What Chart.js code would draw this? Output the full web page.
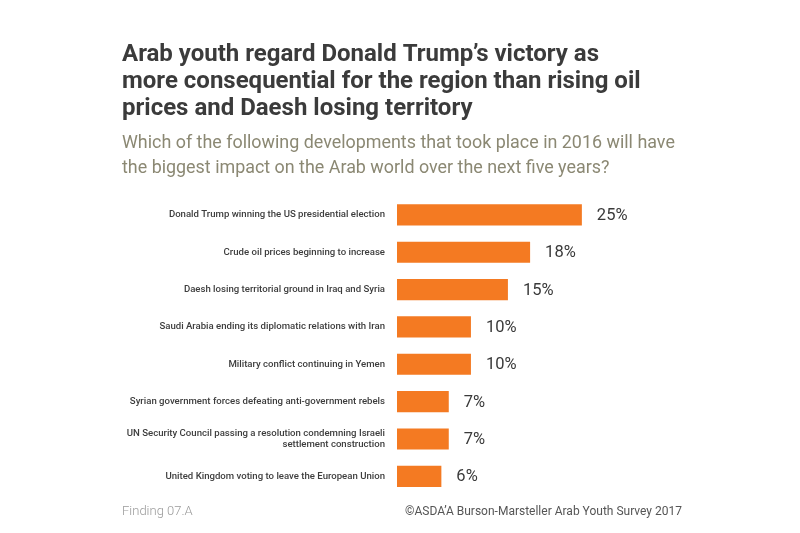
<!DOCTYPE html>
<html>
<head>
<meta charset="utf-8">
<script src="https://cdn.jsdelivr.net/npm/chart.js@4"></script>
<style>
    html, body { margin: 0; padding: 0; background: #ffffff; }
    #wrap { position: relative; width: 800px; height: 533px; }
</style>
</head>
<body>
<div id="wrap"><canvas id="youthChart" width="800" height="533"></canvas></div>
<script>
// Datos del gráfico
const categorias = [
    'Donald Trump winning the US presidential election',
    'Crude oil prices beginning to increase',
    'Daesh losing territorial ground in Iraq and Syria',
    'Saudi Arabia ending its diplomatic relations with Iran',
    'Military conflict continuing in Yemen',
    'Syrian government forces defeating anti-government rebels',
    ['UN Security Council passing a resolution condemning Israeli', 'settlement construction'],
    'United Kingdom voting to leave the European Union'
];
const porcentajes = [25, 18, 15, 10, 10, 7, 7, 6];

const titulo = [
    'Arab youth regard Donald Trump\u2019s victory as',
    'more consequential for the region than rising oil',
    'prices and Daesh losing territory'
];
const subtitulo = [
    'Which of the following developments that took place in 2016 will have',
    'the biggest impact on the Arab world over the next five years?'
];
const pieIzquierda = 'Finding 07.A';
const pieDerecha = '\u00A9ASDA\u2019A Burson-Marsteller Arab Youth Survey 2017';

// Etiquetas de porcentaje al final de cada barra y pie de página
const etiquetasPlugin = {
    id: 'etiquetas',
    afterDatasetsDraw(chart) {
        const ctx = chart.ctx;
        const meta = chart.getDatasetMeta(0);
        ctx.save();
        ctx.font = '400 16.5px Roboto';
        ctx.fillStyle = '#3a3a3a';
        ctx.textBaseline = 'middle';
        ctx.textAlign = 'left';
        meta.data.forEach((bar, i) => {
            ctx.fillText(porcentajes[i] + '%', bar.x + 15, bar.y + 1);
        });

        ctx.textBaseline = 'alphabetic';
        ctx.font = '300 13px Roboto';
        ctx.fillStyle = '#9a9a9a';
        ctx.fillText(pieIzquierda, 122, 515);
        ctx.font = '400 12px Roboto';
        ctx.fillStyle = '#555555';
        ctx.fillText(pieDerecha, 405, 515);
        ctx.restore();
    }
};

new Chart(document.getElementById('youthChart'), {
    type: 'bar',
    data: {
        labels: categorias,
        datasets: [{
            data: porcentajes,
            backgroundColor: '#f47a22',
            barPercentage: 0.9,
            categoryPercentage: 0.63,
        }],
    },
    plugins: [etiquetasPlugin],
    options: {
        indexAxis: 'y',
        responsive: false,
        animation: false,
        layout: {
            padding: { left: 122, right: 122, top: 0, bottom: 38 }
        },
        plugins: {
            legend: { display: false },
            tooltip: { enabled: false },
            title: {
                display: true,
                text: titulo,
                align: 'start',
                color: '#3b3b3b',
                font: { family: 'Roboto', size: 24, weight: 'bold', lineHeight: 1.13 },
                padding: { top: 41, bottom: 8 },
            },
            subtitle: {
                display: true,
                text: subtitulo,
                align: 'start',
                color: '#8b8873',
                font: { family: 'Roboto', size: 17.9, weight: '400', lineHeight: 1.42 },
                padding: { top: 0, bottom: 15 },
            },
        },
        scales: {
            x: {
                display: false,
                min: 0,
                max: 38,
            },
            y: {
                grid: { display: false },
                border: { display: false },
                ticks: {
                    color: '#3d3d3d',
                    padding: 4,
                    font: { family: 'Roboto', size: 9.6, weight: '500' },
                },
                afterFit(scale) {
                    scale.width = 275;
                },
            },
        },
    },
});
</script>
</body>
</html>
